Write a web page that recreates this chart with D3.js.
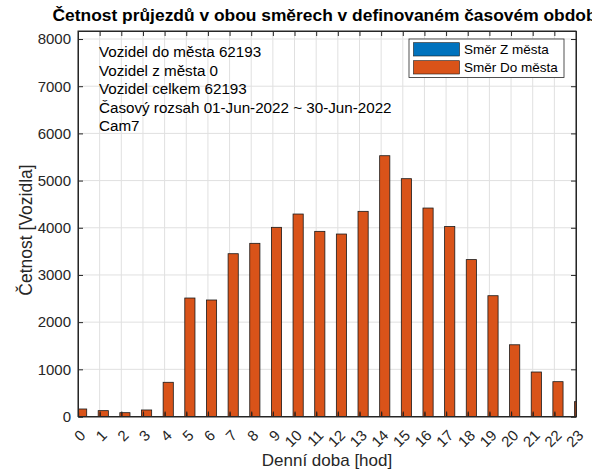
<!DOCTYPE html>
<html>
<head>
<meta charset="utf-8">
<script src="https://cdn.jsdelivr.net/npm/d3@7"></script>
<style>
  body { margin: 0; background: #fff; }
  text { font-family: "Liberation Sans", Arial, Helvetica, sans-serif; fill: #262626; }
</style>
</head>
<body>
<div id="chart"></div>
<script>
// hours of day and counts per direction
let hours = d3.range(0, 24)
let toCity = [159, 124, 81, 138, 725, 2511, 2469, 3450, 3670, 4009, 4291, 3924,
              3867, 4348, 5527, 5040, 4418, 4025, 3325, 2560, 1520, 943, 738, 314]
let fromCity = hours.map(() => 0)
let seriesNames = ['Směr Z města', 'Směr Do města']
let infoLines = ['Vozidel do města 62193', 'Vozidel z města 0', 'Vozidel celkem 62193',
                 'Časový rozsah 01-Jun-2022 ~ 30-Jun-2022', 'Cam7']
let yTicks = [0, 1000, 2000, 3000, 4000, 5000, 6000, 7000, 8000]

let width = 592, height = 475
let plotL = 78, plotR = 576, plotT = 31, plotB = 416.5

let svg = d3.select('#chart').append('svg')
            .attr('width', width).attr('height', height)

let x = d3.scaleLinear().domain([0, 23]).range([plotL, plotR])
let y = d3.scaleLinear().domain([0, 8170]).range([plotB, plotT])

svg.append('clipPath').attr('id', 'plot-clip')
   .append('rect').attr('x', plotL).attr('y', plotT)
   .attr('width', plotR - plotL).attr('height', plotB - plotT)

//grid lines
let grid = svg.append('g')
grid.selectAll('.vgrid').data(hours).enter().append('line')
    .attr('x1', d => x(d)).attr('x2', d => x(d))
    .attr('y1', plotT).attr('y2', plotB)
    .attr('stroke', '#e0e0e0').attr('stroke-width', 1)
grid.selectAll('.hgrid').data(yTicks).enter().append('line')
    .attr('x1', plotL).attr('x2', plotR)
    .attr('y1', d => y(d)).attr('y2', d => y(d))
    .attr('stroke', '#e0e0e0').attr('stroke-width', 1)

//bars, shifted a bit right of each tick like matlab grouped bars
let barOffset = 0.167, barWidth = 0.47
let plot = svg.append('g').attr('clip-path', 'url(#plot-clip)')
plot.selectAll('.bar-do').data(toCity).enter().append('rect')
    .attr('x', (d, i) => x(hours[i] + barOffset - barWidth / 2))
    .attr('y', d => y(d))
    .attr('width', x(barWidth) - x(0))
    .attr('height', d => y(0) - y(d))
    .attr('fill', '#D95319')
    .attr('stroke', '#1a1a1a').attr('stroke-width', 0.8)

//empty series (zero height) leaves a small dark mark at the base
plot.selectAll('.bar-z').data(fromCity).enter().append('line')
    .attr('x1', (d, i) => x(hours[i] + barOffset - barWidth / 2) + 2)
    .attr('x2', (d, i) => x(hours[i] + barOffset - barWidth / 2) + 2)
    .attr('y1', d => y(d)).attr('y2', d => y(d) - 4)
    .attr('stroke', '#3a1a0a').attr('stroke-width', 1.2)

//axes box with inward ticks on all sides
let yAxis = d3.axisLeft(y).tickValues(yTicks).tickSize(-5).tickPadding(7).tickFormat(d3.format('d'))
let xAxis = d3.axisBottom(x).tickValues(hours).tickSize(-5).tickFormat(d3.format('d'))

let gy = svg.append('g').attr('transform', `translate(${plotL},0)`).call(yAxis)
gy.selectAll('text').style('font-size', '15px')
svg.append('g').attr('transform', `translate(${plotR},0)`)
   .call(d3.axisRight(y).tickValues(yTicks).tickSize(-5).tickFormat(''))

let gx = svg.append('g').attr('transform', `translate(0,${plotB})`).call(xAxis)
gx.selectAll('text')
  .style('font-size', '15px')
  .attr('text-anchor', 'end')
  .attr('dy', null).attr('y', 0)
  .attr('transform', 'translate(5,17) rotate(-45)')
  .attr('dominant-baseline', 'middle')
svg.append('g').attr('transform', `translate(0,${plotT})`)
   .call(d3.axisTop(x).tickValues(hours).tickSize(-5).tickFormat(''))

svg.selectAll('.domain').attr('stroke', '#262626')
svg.selectAll('.tick line').attr('stroke', '#262626')
svg.append('rect').attr('x', plotL).attr('y', plotT)
   .attr('width', plotR - plotL).attr('height', plotB - plotT)
   .attr('fill', 'none').attr('stroke', '#262626').attr('stroke-width', 1)

//title and axis labels (title runs past the right edge like the original)
svg.append('text').attr('x', (plotL + plotR) / 2).attr('y', 21)
   .attr('text-anchor', 'middle').style('font-size', '17.4px').style('font-weight', 'bold')
   .style('fill', '#000')
   .text('Četnost průjezdů v obou směrech v definovaném časovém období')
svg.append('text').attr('x', (plotL + plotR) / 2).attr('y', 466)
   .attr('text-anchor', 'middle').style('font-size', '17px')
   .text('Denní doba [hod]')
svg.append('text').attr('transform', `translate(32,230) rotate(-90)`)
   .attr('text-anchor', 'middle').style('font-size', '17.5px')
   .text('Četnost [Vozidla]')

//info text block
svg.selectAll('.info').data(infoLines).enter().append('text')
   .attr('x', 99).attr('y', (d, i) => 57 + i * 18.6)
   .style('font-size', '15.2px').style('fill', '#000')
   .text(d => d)

//legend
let legend = svg.append('g')
legend.append('rect').attr('x', 409).attr('y', 39).attr('width', 155).attr('height', 38.5)
      .attr('fill', '#fff').attr('stroke', '#262626').attr('stroke-width', 0.8)
let legColors = ['#0072BD', '#D95319']
legend.selectAll('.sw').data(seriesNames).enter().append('rect')
      .attr('x', 413.5).attr('y', (d, i) => 42.7 + i * 18)
      .attr('width', 46).attr('height', 13.3)
      .attr('fill', (d, i) => legColors[i])
      .attr('stroke', '#1a1a1a').attr('stroke-width', 0.6)
legend.selectAll('.lt').data(seriesNames).enter().append('text')
      .attr('x', 464).attr('y', (d, i) => 54 + i * 18)
      .style('font-size', '13.5px').style('fill', '#000')
      .text(d => d)
</script>
</body>
</html>
